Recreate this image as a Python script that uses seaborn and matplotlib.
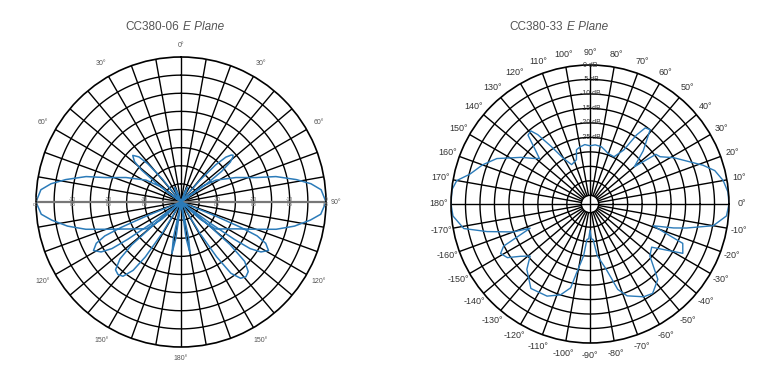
import numpy as np
import matplotlib
matplotlib.use('Agg')
import matplotlib.pyplot as plt
import seaborn as sns

sns.set_theme(style='white')
plt.rcParams['font.family'] = ['Liberation Sans', 'DejaVu Sans']

# CC380-06 E plane, bearing in degrees (clockwise from top), level in dB
left_deg = [0, 18, 21, 24, 27, 30,
            38, 41, 43, 45, 47, 48, 49, 51, 53, 55, 58,
            50, 53, 58, 66, 72, 75, 79, 82, 85, 90, 95, 98, 102, 106, 110, 116, 128, 132, 135,
            110, 112, 113, 114, 116, 119, 122, 124, 125, 126, 128,
            127, 130, 131, 133, 136, 139, 142, 145, 147, 149, 152,
            165, 168, 170, 172, 175,
            185, 188, 190, 192, 195,
            208, 211, 213, 215, 218, 221, 224, 227, 229, 230, 233,
            232, 234, 235, 236, 238, 241, 244, 246, 247, 248, 250,
            225, 228, 232, 244, 250, 254, 258, 262, 265, 270, 275, 278, 281, 285, 288, 294, 302, 307, 310,
            304, 307, 309, 311, 313, 314, 315, 317, 319, 321, 324,
            330, 333, 336, 339, 342, 360]
left_db = [-40, -40, -37, -35.6, -37, -40,
           -40, -32, -26, -22.5, -21, -20.7, -21, -22.5, -26, -32, -40,
           -40, -33, -28.6, -23.4, -18.2, -12.9, -7.6, -3.8, -1.2, 0, -1.3, -4, -8, -12.7, -18, -23.1, -27.9, -33, -40,
           -40, -30, -22, -17, -14, -12.4, -14, -17, -22, -30, -40,
           -40, -30, -22, -16, -13.3, -12.7, -13.3, -16, -22, -30, -40,
           -40, -30, -25.6, -30, -40,
           -40, -30, -25.6, -30, -40,
           -40, -30, -22, -17, -14, -13.5, -14, -17, -22, -30, -40,
           -40, -30, -22, -17, -14, -12.4, -14, -17, -22, -30, -40,
           -40, -33, -28, -23, -18, -12.7, -8, -4, -1.3, 0, -1.2, -3.8, -7.6, -12.9, -18.2, -23.4, -28.6, -33, -40,
           -40, -32, -26, -23, -22, -21.5, -22, -23, -26, -32, -40,
           -40, -37, -35.6, -37, -40, -40]

# CC380-33 E plane, angle in degrees (counter-clockwise from right), level in dB
right_deg = [0, 5, 10, 15, 19, 24, 29, 34, 37, 40, 45, 51, 54, 56, 58, 63, 70, 75, 79, 85, 90,
             95, 100, 104, 107, 115, 120, 124, 127, 129, 132, 135, 138, 141, 146, 154, 160, 166, 170, 174, 180,
             185, 191, 195, 200, 202, 206, 209, 213, 217, 221, 226, 235, 245, 252, 257, 259, 263, 265,
             268, 270, 272, 275, 278, 284, 288, 292, 300, 305, 312, 319, 325, 332, 337, 341, 344, 346, 350, 355, 360]
right_db = [0, -0.2, -1.3, -3.4, -6.8, -11.5, -15.0, -18.8, -19.5, -28, -22, -15, -15.5, -19.2, -26, -29.7, -29.5, -28.6, -27.8, -27.5, -27.9,
            -27.4, -28, -28.7, -32, -33, -30, -24, -18, -15.5, -16, -21, -24.5, -23, -19.2, -12.2, -8.5, -5.3, -1.3, -0.1, 0,
            -0.5, -3.6, -11.2, -19.8, -25.7, -14.8, -12.7, -14, -18, -20.6, -16.6, -12.4, -12.9, -15, -18.3, -23.8, -30, -35.7,
            -36, -39, -36, -35.7, -30, -24.7, -17, -13.8, -11, -10.3, -13, -20.6, -22, -11.7, -13.2, -24.9, -18, -13.7, -4.8, -0.7, 0]

BLUE = '#2b7bb9'
GRID = '#000000'


def draw_left(ax):
    ax.set_theta_zero_location('N')
    ax.set_theta_direction(-1)
    ax.set_ylim(-40, 0)
    ax.grid(False)
    ax.set_xticks([])
    ax.set_yticks([])
    ax.spines['polar'].set_linewidth(1.2)
    ax.spines['polar'].set_color(GRID)
    full = np.linspace(0, 2 * np.pi, 361)
    for ring in range(-35, 0, 5):
        ax.plot(full, np.full_like(full, ring), color=GRID, lw=1.0)
    for a in range(0, 360, 10):
        if a in (90, 270):
            continue
        ax.plot([np.deg2rad(a)] * 2, [-40, 0], color=GRID, lw=1.0)
    # horizontal dB axis
    ax.plot([np.deg2rad(90)] * 2, [-40, 0], color='#777777', lw=1.6)
    ax.plot([np.deg2rad(270)] * 2, [-40, 0], color='#777777', lw=1.6)
    for side in (90, 270):
        for lvl in (0, -10, -20, -30):
            ax.text(np.deg2rad(side), lvl, str(lvl), fontsize=3.5, color='#666666',
                    ha='center', va='bottom')
            ax.text(np.deg2rad(side), lvl, 'dB', fontsize=3.5, color='#666666',
                    ha='center', va='top')
    sns.lineplot(x=np.deg2rad(left_deg), y=left_db, ax=ax, sort=False,
                 estimator=None, color=BLUE, lw=1.1)
    ax.set_xlabel('')
    ax.set_ylabel('')
    labels = {0: '0°', 30: '30°', 60: '60°', 120: '120°', 150: '150°',
              180: '180°', 210: '150°', 240: '120°', 300: '60°', 330: '30°'}
    for a, s in labels.items():
        r = 4.0 if a % 180 else 3.2
        ax.text(np.deg2rad(a), r, s, fontsize=5, color='#555555',
                ha='center', va='center')
    ax.text(np.deg2rad(90), 1.3, '90°', fontsize=5, color='#555555',
            ha='left', va='center')


def draw_right(ax):
    ax.set_theta_zero_location('E')
    ax.set_theta_direction(1)
    ax.set_ylim(-48, 0)
    ax.grid(False)
    ax.set_xticks([])
    ax.set_yticks([])
    ax.spines['polar'].set_linewidth(1.2)
    ax.spines['polar'].set_color(GRID)
    full = np.linspace(0, 2 * np.pi, 361)
    for ring in range(-45, 0, 5):
        ax.plot(full, np.full_like(full, ring), color=GRID, lw=1.0)
    for a in range(0, 360, 10):
        start = -48 if a % 90 == 0 else -45
        ax.plot([np.deg2rad(a)] * 2, [start, 0], color=GRID, lw=1.0)
    for lvl in range(0, -30, -5):
        ax.text(np.deg2rad(90), lvl, f'{lvl} dB', fontsize=5, color='#333333',
                ha='center', va='center')
    sns.lineplot(x=np.deg2rad(right_deg), y=right_db, ax=ax, sort=False,
                 estimator=None, color=BLUE, lw=1.0)
    ax.set_xlabel('')
    ax.set_ylabel('')
    for a in range(-170, 190, 10):
        ax.text(np.deg2rad(a), 4.3, f'{a}°', fontsize=6.5, color='#333333',
                ha='center', va='center')


fig = plt.figure(figsize=(7.65, 3.78), dpi=100)
ax_l = fig.add_axes([36 / 765, 31 / 378, 290 / 765, 290 / 378], projection='polar')
ax_r = fig.add_axes([451 / 765, 35 / 378, 278 / 765, 278 / 378], projection='polar')
draw_left(ax_l)
draw_right(ax_r)

ty = 1 - 27 / 378
fig.text(179 / 765, ty, 'CC380-06', fontsize=8.5, color='#555555', ha='right', va='center')
fig.text(183 / 765, ty, 'E Plane', fontsize=8.5, color='#555555', ha='left', va='center',
         style='italic')
fig.text(563 / 765, ty, 'CC380-33', fontsize=8.5, color='#555555', ha='right', va='center')
fig.text(567 / 765, ty, 'E Plane', fontsize=8.5, color='#555555', ha='left', va='center',
         style='italic')

fig.savefig('out.png', dpi=100, facecolor='white')
